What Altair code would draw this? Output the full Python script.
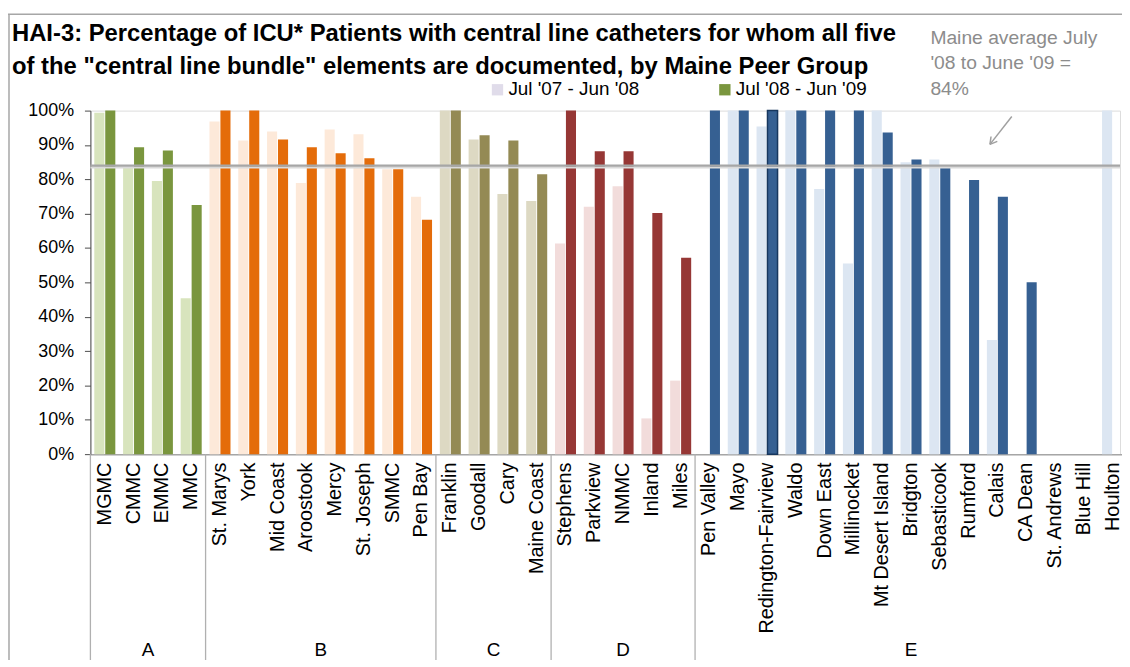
import altair as alt
import pandas as pd

# ---------------- data ----------------
categories = [
    "MGMC", "CMMC", "EMMC", "MMC",
    "St. Marys", "York", "Mid Coast", "Aroostook", "Mercy", "St. Joseph", "SMMC", "Pen Bay",
    "Franklin", "Goodall", "Cary", "Maine Coast",
    "Stephens", "Parkview", "NMMC", "Inland", "Miles",
    "Pen Valley", "Mayo", "Redington-Fairview", "Waldo", "Down East", "Millinocket",
    "Mt Desert Island", "Bridgton", "Sebasticook", "Rumford", "Calais", "CA Dean",
    "St. Andrews", "Blue Hill", "Houlton",
]
group_names = ["A", "B", "C", "D", "E"]
group_sizes = [4, 8, 4, 5, 15]

series_names = ["Jul '07 - Jun '08", "Jul '08 - Jun '09"]
values_0708 = [
    99.4, 83.6, 79.5, 45.4,
    96.8, 91.3, 93.9, 78.9, 94.5, 93.1, 82.9, 74.9,
    100, 91.6, 75.7, 73.7,
    61.3, 72.0, 78.0, 10.4, 21.4,
    None, 100, 95.4, 100, 77.2, 55.5, 100, 85.0, 85.8, None, 33.2, None, None, None, 100,
]
values_0809 = [
    100, 89.3, 88.4, 72.5,
    100, 100, 91.6, 89.3, 87.6, 86.1, 82.9, 68.2,
    100, 92.8, 91.3, 81.5,
    100, 88.2, 88.2, 70.2, 57.2,
    100, 100, 100, 100, 100, 100, 93.6, 85.8, 83.5, 79.8, 74.9, 50.0, None, None, None,
]
maine_average = [84]
y_ticks = [0, 10, 20, 30, 40, 50, 60, 70, 80, 90, 100]

light_colors = ["#d8e4bd", "#fde9d9", "#ddd9c3", "#f2dcdb", "#dce6f2"]
dark_colors = ["#7a963e", "#e46c0a", "#948a54", "#963735", "#366092"]

title_lines = [
    "HAI-3:  Percentage of ICU* Patients with central line catheters for whom  all five",
    "of the \"central line bundle\" elements  are documented, by Maine Peer Group",
]
note_lines = ["Maine average July", "'08 to June '09 =", "84%"]

FONT = "Liberation Sans"
STEP_RANGE = [0, 1044]

# ---------------- tables ----------------
cat_group = []
for g, n in zip(group_names, group_sizes):
    cat_group += [g] * n

rows = []
for i, c in enumerate(categories):
    for s, vals in zip(series_names, [values_0708, values_0809]):
        v = vals[i]
        if v is None:
            continue
        rows.append({"cat": c, "grp": cat_group[i], "series": s, "value": v,
                     "ckey": cat_group[i] + "|" + s})
bars_df = pd.DataFrame(rows)

ckey_domain, ckey_range = [], []
for g, lc, dc in zip(group_names, light_colors, dark_colors):
    ckey_domain += [g + "|" + series_names[0], g + "|" + series_names[1]]
    ckey_range += [lc, dc]

bounds, centers, start = [], [], 0
for n in group_sizes:
    bounds.append(start)
    centers.append(start + n / 2)
    start += n
bounds.append(start)
sep_df = pd.DataFrame({"pos": bounds})
grp_df = pd.DataFrame({"pos": centers, "name": group_names})

# ---------------- layers ----------------
y_scale = alt.Scale(domain=[0, 100], nice=False)
y_axis = alt.Axis(title=None, values=y_ticks, labelExpr="datum.value + '%'", grid=False,
                  tickSize=6, labelOverlap=False, tickColor="#4d4d4d", domainColor="#4d4d4d",
                  labelPadding=11, labelFontSize=18, labelColor="#000000", labelFont=FONT)

bars = alt.Chart(bars_df).mark_bar().encode(
    x=alt.X("cat:N", sort=categories,
            scale=alt.Scale(domain=categories, paddingInner=0.27, paddingOuter=0.135, range=STEP_RANGE),
            axis=alt.Axis(title=None, labelAngle=-90, labelAlign="right", labelBaseline="middle",
                          labelFontSize=20, labelColor="#000000", labelPadding=8, labelLimit=300,
                          labelOverlap=False, ticks=False, domainColor="#a6a6a6", domainWidth=1.5,
                          labelFont=FONT)),
    xOffset=alt.XOffset("series:N", sort=series_names,
                        scale=alt.Scale(domain=series_names, paddingInner=0.08)),
    y=alt.Y("value:Q", scale=y_scale, axis=y_axis),
    color=alt.Color("ckey:N", scale=alt.Scale(domain=ckey_domain, range=ckey_range), legend=None),
    stroke=alt.value("#17375e"),
    strokeWidth=alt.condition(
        f"datum.cat == 'Redington-Fairview' && datum.series == \"{series_names[1]}\"",
        alt.value(1.5), alt.value(0)),
)

avg_df = pd.DataFrame({"avg": maine_average})
avg_light = alt.Chart(avg_df).mark_rule(color="#dadada", strokeWidth=2, yOffset=2).encode(
    y=alt.Y("avg:Q", scale=y_scale, axis=y_axis))
avg_rule = alt.Chart(avg_df).mark_rule(color="#a6a6a6", strokeWidth=2.2).encode(
    y=alt.Y("avg:Q", scale=y_scale, axis=y_axis))

seps = alt.Chart(sep_df).mark_rule(color="#b0b0b0", strokeWidth=1.3).encode(
    x=alt.X("pos:Q", scale=alt.Scale(domain=[0, 36], range=STEP_RANGE, nice=False, zero=False), axis=None),
    y=alt.value(346), y2=alt.value(560),
)
grp_labels = alt.Chart(grp_df).mark_text(fontSize=19, font=FONT, baseline="alphabetic",
                                         align="center", color="#000000").encode(
    x=alt.X("pos:Q", scale=alt.Scale(domain=[0, 36], range=STEP_RANGE, nice=False, zero=False), axis=None),
    y=alt.value(549),
    text="name:N",
)

one = pd.DataFrame({"t": [0]})

title = alt.Chart(one).mark_text(
    fontSize=24, fontWeight="bold", font=FONT, align="left", baseline="alphabetic",
    lineHeight=33, color="#000000").encode(
    x=alt.value(-79), y=alt.value(-70), text=alt.value(title_lines))

note = alt.Chart(one).mark_text(
    fontSize=19.4, font=FONT, align="left", baseline="alphabetic", lineHeight=25.5,
    color="#8c8c8c").encode(
    x=alt.value(846), y=alt.value(-67), text=alt.value(note_lines))

leg_sq1 = alt.Chart(one).mark_square(size=130, color="#e0dcea", opacity=1, filled=True).encode(
    x=alt.value(410), y=alt.value(-21))
leg_sq2 = alt.Chart(one).mark_square(size=130, color=dark_colors[0], opacity=1, filled=True).encode(
    x=alt.value(639), y=alt.value(-21))
leg_t1 = alt.Chart(one).mark_text(
    fontSize=19, font=FONT, align="left", baseline="alphabetic", color="#000000").encode(
    x=alt.value(421), y=alt.value(-16), text=alt.value(series_names[0]))
leg_t2 = alt.Chart(one).mark_text(
    fontSize=19, font=FONT, align="left", baseline="alphabetic", color="#000000").encode(
    x=alt.value(650), y=alt.value(-16), text=alt.value(series_names[1]))

arrow_shaft = alt.Chart(one).mark_rule(color="#a0a0a0", strokeWidth=1.5).encode(
    x=alt.value(928), y=alt.value(6), x2=alt.value(906), y2=alt.value(34))
arrow_h1 = alt.Chart(one).mark_rule(color="#a0a0a0", strokeWidth=1.5).encode(
    x=alt.value(906), y=alt.value(34), x2=alt.value(913.4), y2=alt.value(31))
arrow_h2 = alt.Chart(one).mark_rule(color="#a0a0a0", strokeWidth=1.5).encode(
    x=alt.value(906), y=alt.value(34), x2=alt.value(907.1), y2=alt.value(26.1))

frame_top = alt.Chart(one).mark_rule(color="#a6a6a6", strokeWidth=1.5).encode(
    x=alt.value(-83), x2=alt.value(1040), y=alt.value(-97))
frame_left = alt.Chart(one).mark_rule(color="#a6a6a6", strokeWidth=1.5).encode(
    x=alt.value(-82), y=alt.value(-97), y2=alt.value(560))

chart = alt.layer(
    frame_top, frame_left, bars, avg_light, avg_rule, seps, grp_labels, title, note,
    leg_sq1, leg_sq2, leg_t1, leg_t2, arrow_shaft, arrow_h1, arrow_h2,
).resolve_scale(x="independent").properties(
    width=1037, height=346,
    autosize=alt.AutoSizeParams(type="none"),
    padding={"left": 83, "top": 101, "right": 2, "bottom": 205},
).configure_view(stroke=None).configure(background="#ffffff")

chart.save("out.html", embed_options={"renderer": "svg", "actions": False})
